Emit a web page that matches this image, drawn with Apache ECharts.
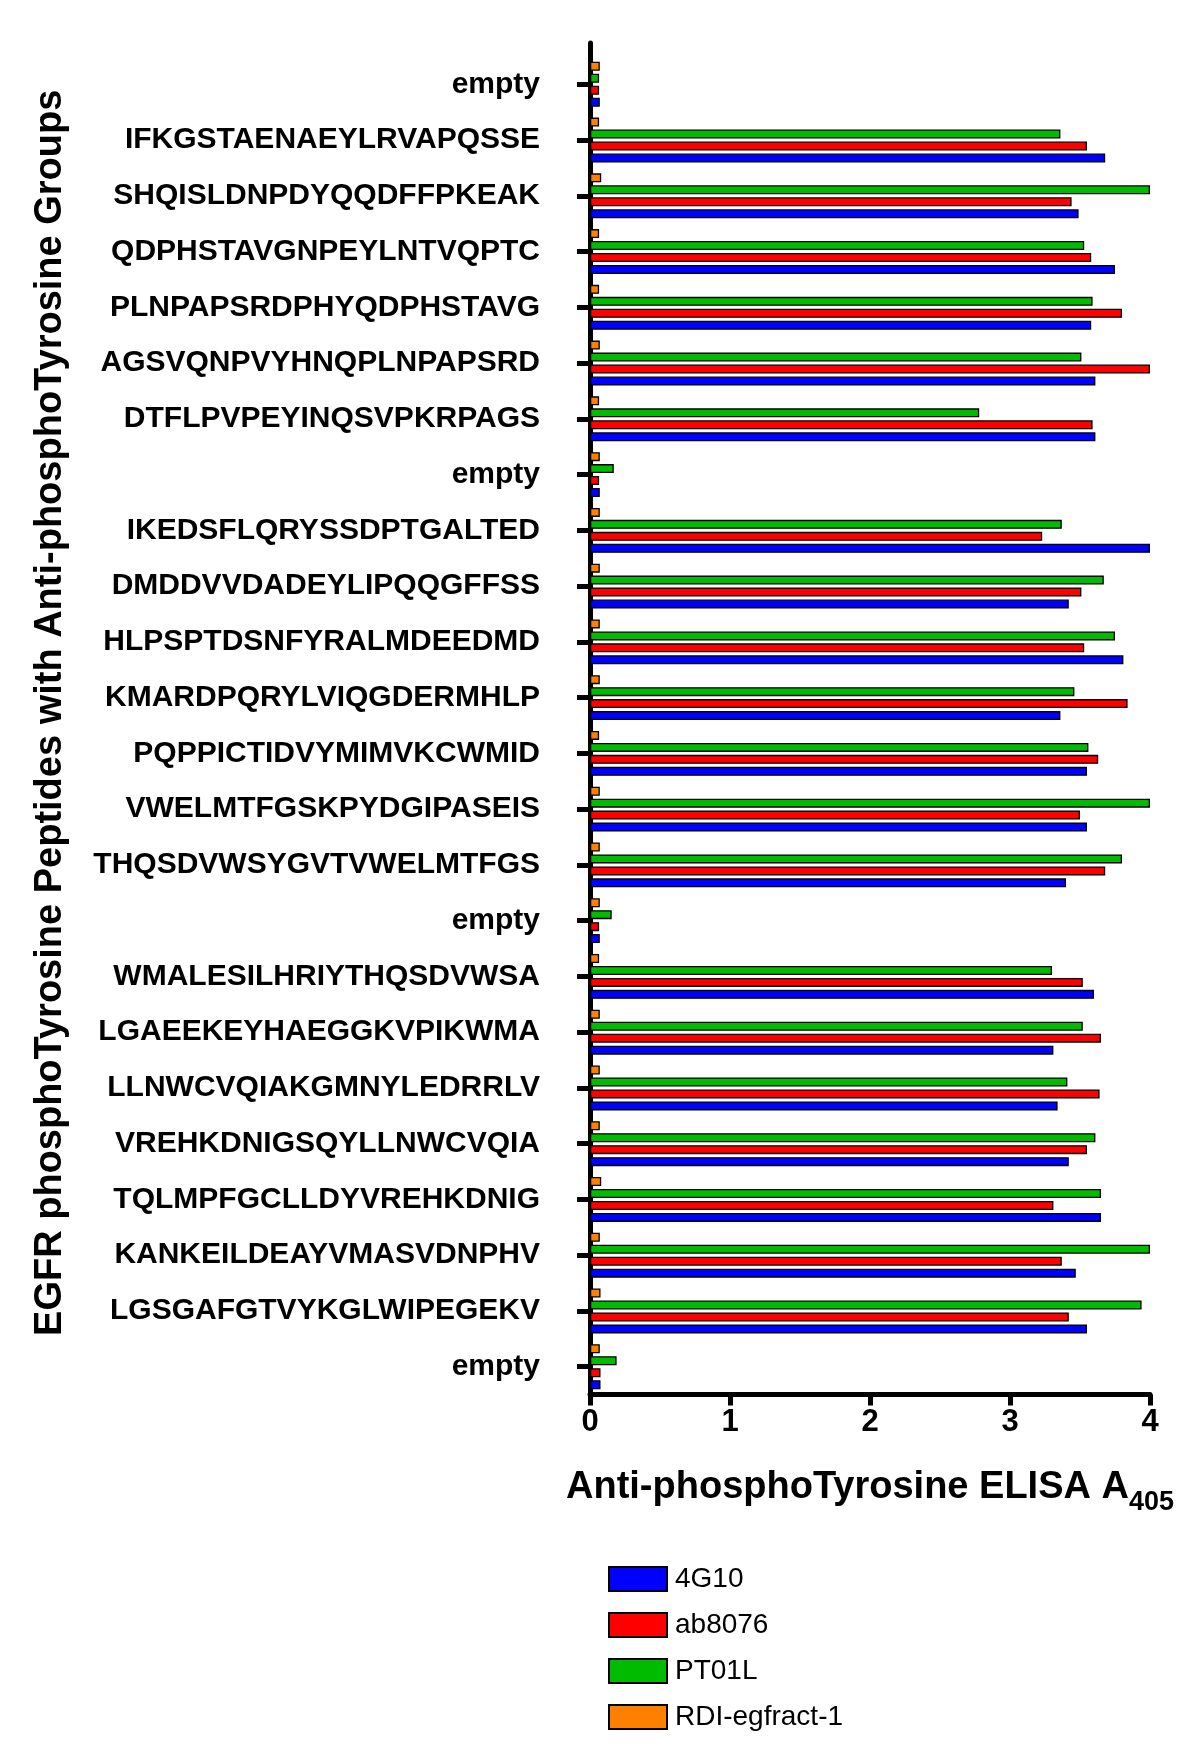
<!DOCTYPE html>
<html>
<head>
<meta charset="utf-8">
<script src="https://cdn.jsdelivr.net/npm/echarts@6/dist/echarts.min.js"></script>
<style>
  html, body { margin: 0; padding: 0; background: #fff; }
  #chart { width: 1200px; height: 1762px; }
</style>
</head>
<body>
<div id="chart"></div>
<script>
// peptides, listed top to bottom as in the figure
const peptides = [
  'empty',
  'IFKGSTAENAEYLRVAPQSSE',
  'SHQISLDNPDYQQDFFPKEAK',
  'QDPHSTAVGNPEYLNTVQPTC',
  'PLNPAPSRDPHYQDPHSTAVG',
  'AGSVQNPVYHNQPLNPAPSRD',
  'DTFLPVPEYINQSVPKRPAGS',
  'empty',
  'IKEDSFLQRYSSDPTGALTED',
  'DMDDVVDADEYLIPQQGFFSS',
  'HLPSPTDSNFYRALMDEEDMD',
  'KMARDPQRYLVIQGDERMHLP',
  'PQPPICTIDVYMIMVKCWMID',
  'VWELMTFGSKPYDGIPASEIS',
  'THQSDVWSYGVTVWELMTFGS',
  'empty',
  'WMALESILHRIYTHQSDVWSA',
  'LGAEEKEYHAEGGKVPIKWMA',
  'LLNWCVQIAKGMNYLEDRRLV',
  'VREHKDNIGSQYLLNWCVQIA',
  'TQLMPFGCLLDYVREHKDNIG',
  'KANKEILDEAYVMASVDNPHV',
  'LGSGAFGTVYKGLWIPEGEKV',
  'empty'
];

const val4G10 = [0.07, 3.68, 3.49, 3.75, 3.58, 3.61, 3.61, 0.07, 4.0, 3.42, 3.81, 3.36,
  3.55, 3.55, 3.40, 0.07, 3.60, 3.31, 3.34, 3.42, 3.65, 3.47, 3.55, 0.075];
const valAb8076 = [0.065, 3.55, 3.44, 3.58, 3.80, 4.0, 3.59, 0.065, 3.23, 3.51, 3.53, 3.84,
  3.63, 3.50, 3.68, 0.065, 3.52, 3.65, 3.64, 3.55, 3.31, 3.37, 3.42, 0.075];
const valPT01L = [0.065, 3.36, 4.0, 3.53, 3.59, 3.51, 2.78, 0.17, 3.37, 3.67, 3.75, 3.46,
  3.56, 4.0, 3.80, 0.155, 3.30, 3.52, 3.41, 3.61, 3.65, 4.0, 3.94, 0.19];
const valRDI = [0.07, 0.065, 0.08, 0.065, 0.065, 0.07, 0.065, 0.07, 0.07, 0.07, 0.07, 0.07,
  0.065, 0.07, 0.07, 0.07, 0.065, 0.07, 0.07, 0.07, 0.08, 0.07, 0.075, 0.07];

const xTicks = [0, 1, 2, 3, 4];
const seriesNames = ['4G10', 'ab8076', 'PT01L', 'RDI-egfract-1'];
const seriesColors = ['#0000ff', '#ff0000', '#00bb00', '#ff8000'];

const font = '"Liberation Sans", Arial, Helvetica, sans-serif';
const chart = echarts.init(document.getElementById('chart'));

function barSeries(name, color, data) {
  return {
    name: name,
    type: 'bar',
    xAxisIndex: 0,
    yAxisIndex: 0,
    data: data,
    barWidth: 9,
    barGap: '33%',
    itemStyle: { color: color, borderColor: '#000', borderWidth: 1.3 }
  };
}

const option = {
  backgroundColor: '#fff',
  animation: false,
  textStyle: { fontFamily: font },
  legend: {
    orient: 'vertical',
    left: 603,
    top: 1560,
    icon: 'rect',
    itemWidth: 58,
    itemHeight: 24,
    itemGap: 18,
    data: seriesNames,
    textStyle: { fontFamily: font, fontSize: 28, color: '#000', padding: [0, 0, 0, 3] }
  },
  grid: [
    { left: 590, right: 50, top: 56.4, bottom: 367.4 },
    { left: 590, right: 50, top: 43, bottom: 367.4 }
  ],
  xAxis: [
    {
      gridIndex: 0,
      type: 'value',
      min: xTicks[0],
      max: xTicks[xTicks.length - 1],
      interval: 1,
      splitLine: { show: false },
      axisLine: { show: true, lineStyle: { color: '#000', width: 5 } },
      axisTick: { show: true, length: 11, lineStyle: { color: '#000', width: 5 } },
      axisLabel: { fontFamily: font, fontSize: 31, fontWeight: 'bold', color: '#000', margin: 12 },
      name: '{m|Anti-phosphoTyrosine ELISA A}{s|405}',
      nameLocation: 'middle',
      nameGap: 74,
      nameTextStyle: {
        rich: {
          m: { fontFamily: font, fontSize: 38, fontWeight: 'bold', color: '#000', lineHeight: 47, verticalAlign: 'top' },
          s: { fontFamily: font, fontSize: 27, fontWeight: 'bold', color: '#000', lineHeight: 47, verticalAlign: 'bottom' }
        }
      }
    },
    { gridIndex: 1, type: 'value', min: 0, max: 1, show: false }
  ],
  yAxis: [
    {
      gridIndex: 0,
      type: 'category',
      inverse: true,
      data: peptides,
      axisLine: { show: false },
      axisTick: { show: true, alignWithLabel: true, length: 13, lineStyle: { color: '#000', width: 5 } },
      axisLabel: { interval: 0, fontFamily: font, fontSize: 30, fontWeight: 'bold', color: '#000', margin: 50 }
    },
    {
      gridIndex: 1,
      type: 'value',
      min: 0,
      max: 1,
      axisLine: { show: true, lineStyle: { color: '#000', width: 5 } },
      axisTick: { show: false },
      axisLabel: { show: false },
      splitLine: { show: false },
      name: 'EGFR phosphoTyrosine Peptides with Anti-phosphoTyrosine Groups',
      nameLocation: 'middle',
      nameGap: 520,
      nameTextStyle: { fontFamily: font, fontSize: 38, fontWeight: 'bold', color: '#000', padding: [0, 0, 0, 12] }
    }
  ],
  // series order: the first one is drawn at the top of each group
  series: [
    barSeries(seriesNames[3], seriesColors[3], valRDI),
    barSeries(seriesNames[2], seriesColors[2], valPT01L),
    barSeries(seriesNames[1], seriesColors[1], valAb8076),
    barSeries(seriesNames[0], seriesColors[0], val4G10)
  ]
};

chart.setOption(option);
</script>
</body>
</html>
